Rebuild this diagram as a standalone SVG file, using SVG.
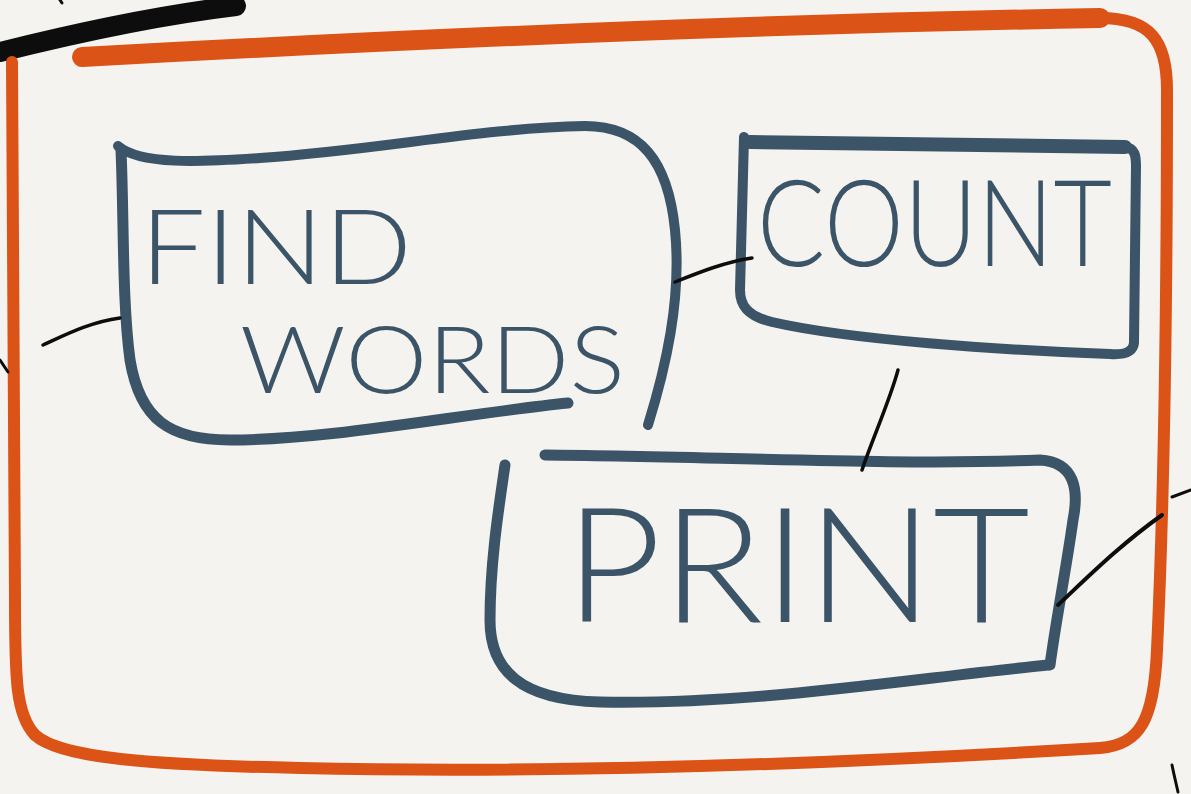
<svg xmlns="http://www.w3.org/2000/svg" width="1191" height="794" viewBox="0 0 1191 794">
<style>
.o{fill:none;stroke:#db5316;stroke-linecap:round;stroke-linejoin:round}
.b{fill:none;stroke:#3b5467;stroke-linecap:round;stroke-linejoin:round}
.c{fill:none;stroke:#0d0d0d;stroke-linecap:round;stroke-linejoin:round}
.t{fill:#3b5467;font-family:"Lato","Open Sans","Liberation Sans",sans-serif;font-weight:300}
</style>
<rect x="0" y="0" width="1191" height="794" fill="#f4f3ef"/>
<g id="frame">
<path class="c" d="M0,52 C 80,32 160,15 236,6" stroke-width="20"/>
<path class="c" d="M60,0 L62,3" stroke-width="3"/>
<path class="o" d="M82,57 C 300,45 700,25 1100,18" stroke-width="20"/>
<path class="o" d="M1100,18 C 1150,18 1167,40 1167,90 C 1167,300 1164,500 1157,650 C 1154,720 1140,745 1100,748 C 900,760 600,775 300,768 C 150,765 60,758 35,735 C 16,715 15,680 15,600 C 15,400 12,200 12,62" stroke-width="12"/>
</g>
<g id="node-find-words">
<path class="b" d="M118,146 C 140,165 200,162 260,158 C 380,150 480,128 585,126 C 640,126 668,160 675,230 C 682,300 665,370 648,425" stroke-width="10"/>
<path class="b" d="M121,150 C 124,220 122,300 130,360 C 140,420 170,440 230,440 C 330,440 460,414 568,403" stroke-width="11"/>
<text class="t" x="140" y="284" font-size="104" textLength="272" lengthAdjust="spacingAndGlyphs">FIND</text>
<text class="t" x="240" y="393" font-size="92" textLength="385" lengthAdjust="spacingAndGlyphs">WORDS</text>
</g>
<g id="node-count">
<path class="b" d="M750,142 C 900,144 1050,145 1125,147" stroke-width="14"/>
<path class="b" d="M1125,147 C 1135,148 1136,156 1136,166 L 1134,343 C 1133,352 1125,355 1110,354 C 1000,350 850,340 772,322 C 747,316 740,305 740,290 L 744,137" stroke-width="10"/>
<text class="t" x="757" y="266" font-size="120" textLength="355" lengthAdjust="spacingAndGlyphs">COUNT</text>
</g>
<g id="node-print">
<path class="b" d="M545,455 C 700,456 900,466 1040,460 C 1075,462 1079,490 1073,520 C 1066,570 1056,620 1050,665" stroke-width="11"/>
<path class="b" d="M1048,665 C 900,680 750,705 600,702 C 520,700 490,670 490,620 C 490,560 500,500 505,465" stroke-width="11"/>
<text class="t" x="565" y="622" font-size="160" textLength="465" lengthAdjust="spacingAndGlyphs">PRINT</text>
</g>
<g id="connectors">
<path class="c" d="M43,345 C 65,335 90,322 120,318" stroke-width="3.5"/>
<path class="c" d="M675,282 C 700,272 725,262 752,258" stroke-width="3.5"/>
<path class="c" d="M898,370 C 890,400 872,440 862,470" stroke-width="3.5"/>
<path class="c" d="M1058,605 C 1090,575 1120,545 1162,515" stroke-width="4"/>
<path class="c" d="M0,360 L8,372" stroke-width="3"/>
<path class="c" d="M1172,497 L1191,490" stroke-width="3"/>
<path class="c" d="M1172,765 C 1174,775 1176,783 1178,792" stroke-width="3"/>
</g>
</svg>
